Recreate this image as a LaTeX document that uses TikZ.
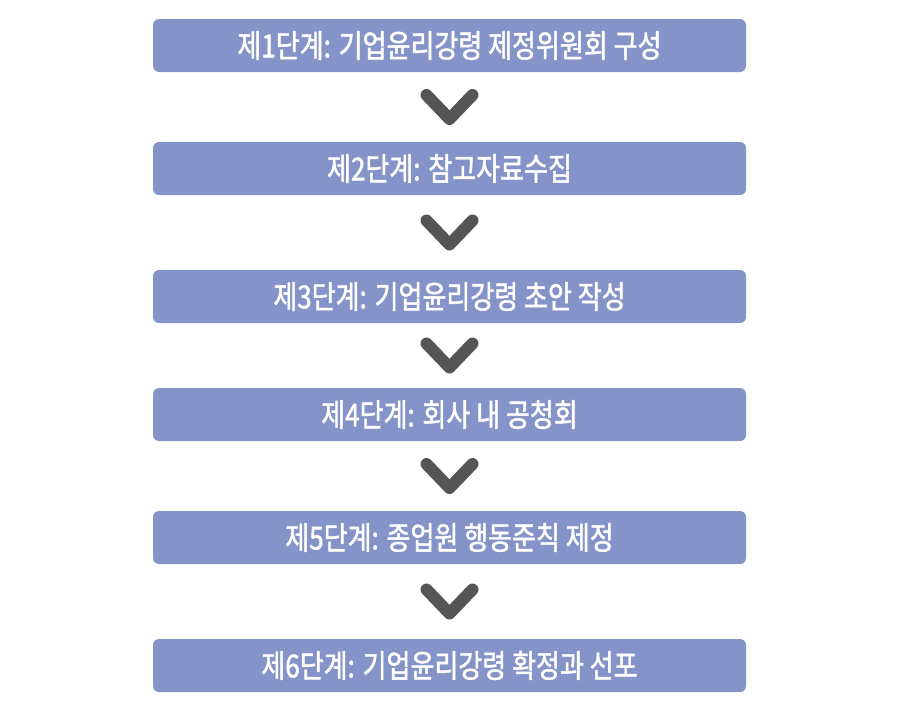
\documentclass[tikz,border=0pt]{standalone}
\usepackage{fontspec}
\newfontfamily\kr[FakeStretch=0.82,FakeBold=1.5]{Noto Sans CJK KR}
\usepackage{tikz}
\usetikzlibrary{calc}

\definecolor{stepblue}{RGB}{132,148,201}
\definecolor{chevgray}{RGB}{85,85,85}

\tikzset{
  stepbox/.style={fill=stepblue,rounded corners=4.5pt,minimum width=444.75pt,
    minimum height=39.75pt,inner sep=0pt,text=white,font=\kr\fontsize{23.8pt}{25pt}\selectfont},
  chevron/.style={draw=chevgray,line width=9pt,line cap=round,line join=round}
}

\begin{document}
\begin{tikzpicture}[x=0.75pt,y=-0.75pt]
\useasboundingbox (0,0) rectangle (900,714);
\node[stepbox] (s1) at (449.5,45.5) {제1단계: 기업윤리강령 제정위원회 구성};
\node[stepbox] (s2) at (449.5,168.5) {제2단계: 참고자료수집};
\node[stepbox] (s3) at (449.5,296.5) {제3단계: 기업윤리강령 초안 작성};
\node[stepbox] (s4) at (449.5,414.5) {제4단계: 회사 내 공청회};
\node[stepbox] (s5) at (449.5,537.5) {제5단계: 종업원 행동준칙 제정};
\node[stepbox] (s6) at (449.5,665.5) {제6단계: 기업윤리강령 확정과 선포};
% chevrons between the steps
\foreach \a/\b in {s1/s2,s2/s3,s3/s4,s4/s5,s5/s6}{
  \coordinate (m) at ($(\a.south)!0.5!(\b.north)$);
  \draw[chevron] ($(m)+(-23,-12)$) -- ($(m)+(0,12)$) -- ($(m)+(23,-12)$);
}
\end{tikzpicture}
\end{document}
